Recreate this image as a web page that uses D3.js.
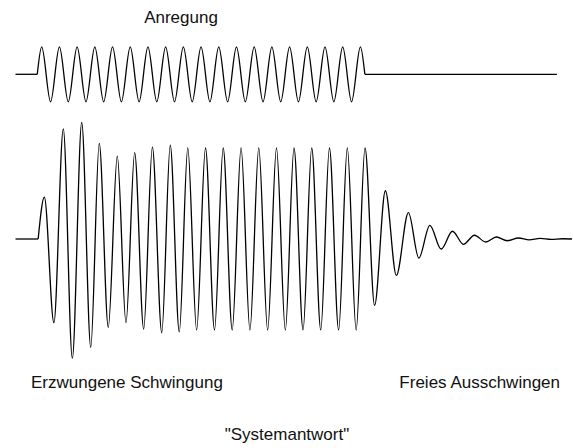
<!DOCTYPE html>
<html>
<head>
<meta charset="utf-8">
<script src="https://cdn.jsdelivr.net/npm/d3@7"></script>
<style>
    body { margin: 0; background: #fff; }
    text { font-family: "Liberation Sans", Arial, sans-serif; fill: #111; }
</style>
</head>
<body>
<svg id="chart" width="573" height="448"></svg>
<script>
// Zeitachse in ms, Amplituden normiert (Anregung: 1, eingeschwungene Antwort: 1)

// Anregung: Ruhe, dann Sinus, dann wieder Ruhe
var anregungRuhe = [[-12.3, 0], [0, 0]];
var anregungEnde = [[185, 0], [293.5, 0]];
var anregungZeit = [0, 2.5, 7.5, 12.5, 17.5, 22.5, 27.5, 32.5, 37.5, 42.5, 47.5, 52.5,
    57.5, 62.5, 67.5, 72.5, 77.5, 82.5, 87.5, 92.5, 97.5, 102.5, 107.5, 112.5, 117.5,
    122.5, 127.5, 132.5, 137.5, 142.5, 147.5, 152.5, 157.5, 162.5, 167.5, 172.5,
    177.5, 182.5, 185];
var anregungWert = [0, 1, -1, 1, -1, 1, -1, 1, -1, 1, -1, 1, -1, 1, -1, 1, -1, 1, -1,
    1, -1, 1, -1, 1, -1, 1, -1, 1, -1, 1, -1, 1, -1, 1, -1, 1, -1, 1, 0];

// Systemantwort: Einschwingen, erzwungene Schwingung, freies Ausschwingen
var antwortRuhe = [[-12.3, 0], [0.5, 0]];
var antwortZeit = [0.5, 4.0, 9.4, 14.7, 19.8, 25.1, 30.2, 35.0, 40.1, 45.2, 50.1, 55.0,
    60.1, 65.0, 70.3, 75.1, 80.2, 85.0, 90.0, 95.0, 100.1, 105.0, 110.1, 115.1, 120.1,
    125.1, 130.1, 135.1, 140.1, 145.0, 150.1, 155.0, 160.1, 165.0, 170.2, 175.1, 180.1,
    185.1, 190.5, 196.6, 202.8, 209.6, 215.5, 221.7, 228.1, 234.5, 240.7, 246.9, 253.3,
    259.3, 265.4, 271.8, 277.8, 284.0, 290.2, 296.5, 302];
var antwortWert = [0, 0.46, -0.92, 1.21, -1.31, 1.28, -1.19, 1.05, -0.97, 0.91, -0.92,
    0.95, -0.99, 1.01, -1.03, 1.03, -1.02, 1.0, -1.0, 1.0, -1.0, 1.0, -1.0, 1.0, -1.0,
    1.0, -1.0, 1.0, -1.0, 1.0, -1.0, 1.0, -1.0, 1.0, -1.0, 1.0, -1.0, 1.0,
    -0.73, 0.53, -0.40, 0.29, -0.21, 0.15, -0.11, 0.085, -0.058, 0.041, -0.033, 0.022,
    -0.019, 0.011, -0.009, 0.007, -0.004, 0.003, 0];

var beschriftungen = [
    { text: "Anregung", x: 181, y: 23, anchor: "middle" },
    { text: "Erzwungene Schwingung", x: 31, y: 388, anchor: "start" },
    { text: "Freies Ausschwingen", x: 560, y: 388, anchor: "end" },
    { text: "\"Systemantwort\"", x: 287, y: 440, anchor: "middle" }
];

var svg = d3.select("#chart");

var x = d3.scaleLinear()
    .domain([-12.3, 302])
    .range([15.5, 572]);

// jeweils eigene y-Skala fuer die beiden Spuren
var yAnregung = d3.scaleLinear()
    .domain([-1, 1])
    .range([101.8, 46.8]);

var yAntwort = d3.scaleLinear()
    .domain([-1, 1])
    .range([330, 148]);

/**
 * Zeichnet eine Spur als Pfad.
 * @param punkte Liste von [zeit, wert]
 * @param y die y-Skala
 * @param kurve d3 curve factory
 */
function zeichneSpur(punkte, y, kurve) {
    var linie = d3.line()
        .x(function(d) { return x(d[0]); })
        .y(function(d) { return y(d[1]); })
        .curve(kurve);

    svg.append("path")
        .datum(punkte)
        .attr("d", linie)
        .attr("fill", "none")
        .attr("stroke", "#000")
        .attr("stroke-width", 1.3)
        .attr("stroke-linejoin", "round");
}

var anregung = d3.zip(anregungZeit, anregungWert);
var antwort = d3.zip(antwortZeit, antwortWert);

// Anregung
zeichneSpur(anregungRuhe, yAnregung, d3.curveLinear);
zeichneSpur(anregung, yAnregung, d3.curveMonotoneX);
zeichneSpur(anregungEnde, yAnregung, d3.curveLinear);

// Systemantwort
zeichneSpur(antwortRuhe, yAntwort, d3.curveLinear);
zeichneSpur(antwort, yAntwort, d3.curveMonotoneX);

// Texte
svg.selectAll("text.label")
    .data(beschriftungen)
    .enter()
    .append("text")
    .attr("class", "label")
    .attr("x", function(d) { return d.x; })
    .attr("y", function(d) { return d.y; })
    .attr("text-anchor", function(d) { return d.anchor; })
    .attr("font-size", "17px")
    .text(function(d) { return d.text; });
</script>
</body>
</html>
